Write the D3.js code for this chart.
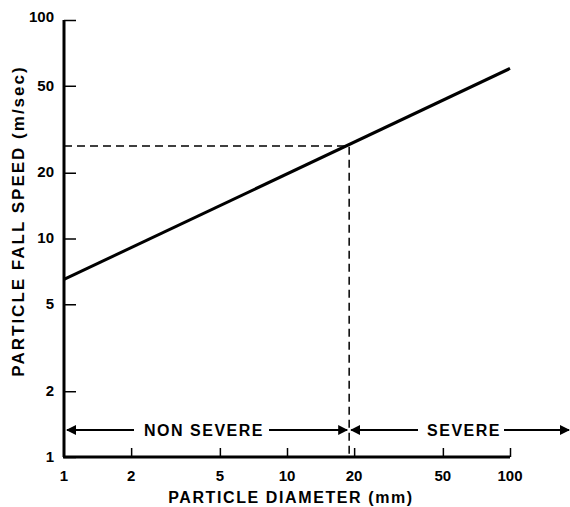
<!DOCTYPE html>
<html>
<head>
<meta charset="UTF-8">
<script src="https://d3js.org/d3.v7.min.js"></script>
<style>
  body { margin: 0; background: #fff; }
  text { font-family: "Liberation Sans", Arial, sans-serif; font-weight: bold; fill: #000; }
</style>
</head>
<body>
<svg width="570" height="507"></svg>
<script>
// data
var xTicks = [1, 2, 5, 10, 20, 50, 100];
var yTicks = [1, 2, 5, 10, 20, 50, 100];
var diameter = [1, 100];
var fallSpeed = [6.5, 60];
var marker = { diameter: 19, speed: 26.5 };
var zoneLabels = ["NON SEVERE", "SEVERE"];

var svg = d3.select("svg");

var x = d3.scaleLog().domain([1, 100]).range([64, 510]);
var y = d3.scaleLog().domain([1, 100]).range([457, 20]);

// y axis, ticks point inward
var yAxis = svg.append("g")
    .attr("transform", "translate(64,0)")
    .call(d3.axisRight(y).tickValues(yTicks).tickSize(12).tickFormat(""));
yAxis.select(".domain").attr("stroke-width", 3).attr("d", "M0,20V457");
yAxis.selectAll(".tick line").attr("stroke-width", 1.5);

svg.selectAll(".ylab")
    .data(yTicks)
    .enter().append("text")
    .attr("class", "ylab")
    .attr("x", 54)
    .attr("y", function(d) { return y(d) + 4; })
    .attr("text-anchor", "end")
    .attr("font-size", "15px")
    .attr("dy", function(d) { return d == 100 ? "-0.15em" : "0.05em"; })
    .text(function(d) { return d; });

// x axis, ticks point up
var xAxis = svg.append("g")
    .attr("transform", "translate(0,457)")
    .call(d3.axisTop(x).tickValues(xTicks.slice(1)).tickSize(9).tickFormat(""));
xAxis.select(".domain").attr("stroke-width", 3).attr("d", "M63,0H510");
xAxis.selectAll(".tick line").attr("stroke-width", 1.5);

svg.selectAll(".xlab")
    .data(xTicks)
    .enter().append("text")
    .attr("class", "xlab")
    .attr("x", function(d) { return x(d); })
    .attr("y", 481)
    .attr("text-anchor", "middle")
    .attr("font-size", "15px")
    .text(function(d) { return d; });

// axis titles
svg.append("text")
    .attr("x", 291).attr("y", 503)
    .attr("text-anchor", "middle")
    .attr("font-size", "16px")
    .attr("letter-spacing", "1.6px")
    .text("PARTICLE DIAMETER (mm)");

svg.append("text")
    .attr("transform", "translate(24,221) rotate(-90)")
    .attr("text-anchor", "middle")
    .attr("font-size", "17px")
    .attr("letter-spacing", "2px")
    .text("PARTICLE FALL SPEED (m/sec)");

// dashed guides
svg.append("path")
    .attr("fill", "none")
    .attr("stroke", "#000")
    .attr("stroke-width", 1.5)
    .attr("stroke-dasharray", "8,5")
    .attr("d", "M" + x(1) + "," + y(marker.speed) + "H" + x(marker.diameter) + "V" + y(1));

// main line
var line = d3.line()
    .x(function(d, i) { return x(diameter[i]); })
    .y(function(d) { return y(d); });
svg.append("path")
    .datum(fallSpeed)
    .attr("fill", "none")
    .attr("stroke", "#000")
    .attr("stroke-width", 3)
    .attr("d", line);

// zone arrows
var defs = svg.append("defs");
defs.append("marker")
    .attr("id", "ah")
    .attr("viewBox", "0 0 10 10")
    .attr("refX", 9).attr("refY", 5)
    .attr("markerWidth", 5).attr("markerHeight", 5)
    .attr("orient", "auto-start-reverse")
    .append("path").attr("d", "M0,0L10,5L0,10z").attr("fill", "#000");

var ay = 430;
function arrow(x1, x2, atStart, atEnd) {
    var p = svg.append("line")
        .attr("x1", x1).attr("x2", x2).attr("y1", ay).attr("y2", ay)
        .attr("stroke", "#000").attr("stroke-width", 2);
    if (atStart) p.attr("marker-start", "url(#ah)");
    if (atEnd) p.attr("marker-end", "url(#ah)");
}
arrow(x(1) + 3, 134, true, false);
arrow(269, x(marker.diameter) - 2, false, true);
arrow(x(marker.diameter) + 2, 418, true, false);
arrow(504, 569, false, true);

svg.append("text")
    .attr("x", 204).attr("y", ay + 6)
    .attr("text-anchor", "middle")
    .attr("font-size", "16px")
    .attr("letter-spacing", "1.5px")
    .text(zoneLabels[0]);
svg.append("text")
    .attr("x", 464).attr("y", ay + 6)
    .attr("text-anchor", "middle")
    .attr("font-size", "16px")
    .attr("letter-spacing", "1.5px")
    .text(zoneLabels[1]);
</script>
</body>
</html>
